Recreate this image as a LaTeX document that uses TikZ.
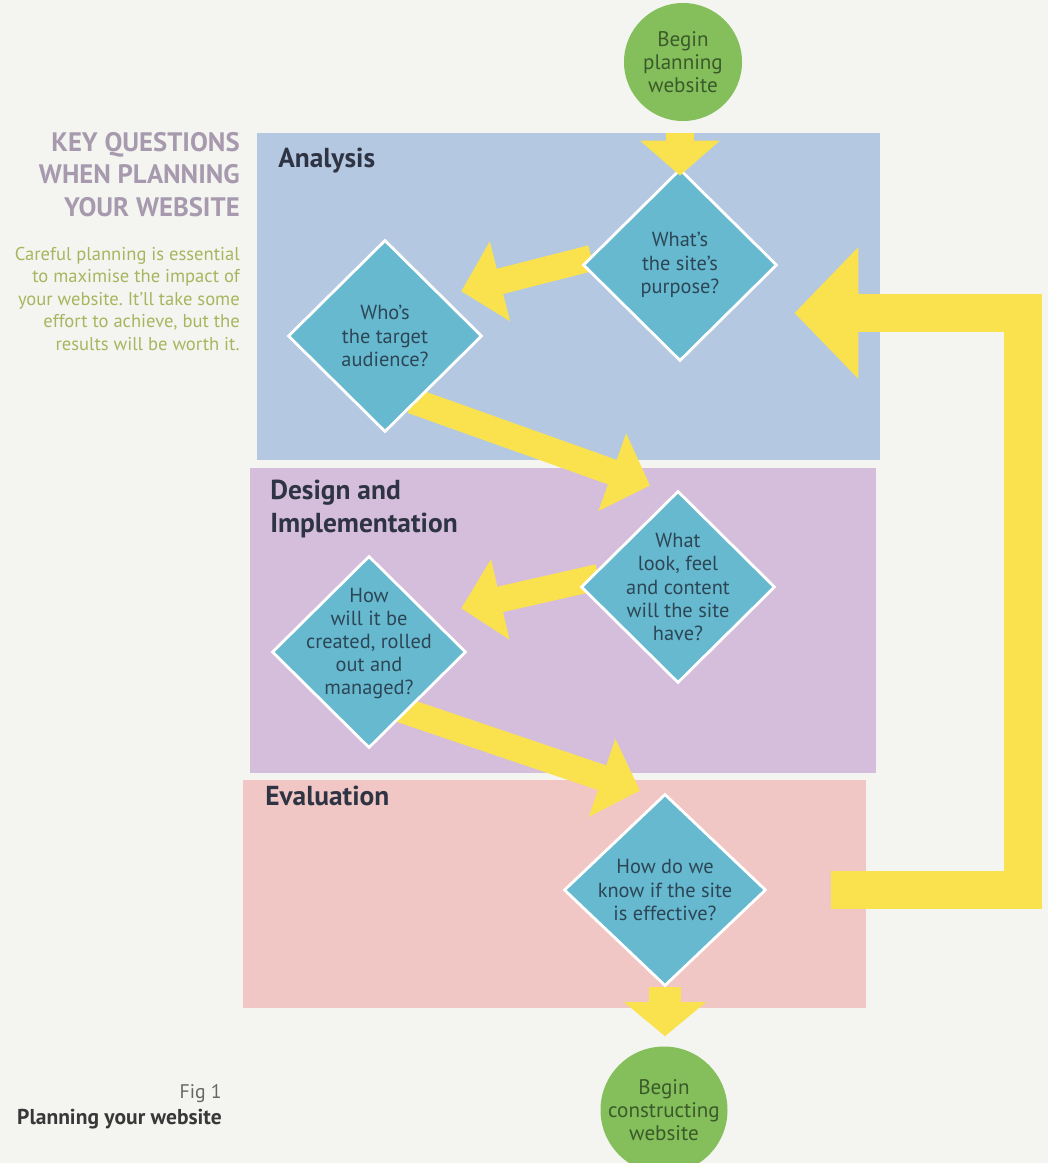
\documentclass[tikz,border=0pt]{standalone}
\usepackage{fontspec}
\setmainfont{PT Sans}
\frenchspacing
\usetikzlibrary{shapes.geometric,arrows.meta,calc}

\definecolor{paper}{HTML}{F4F5F1}
\definecolor{anablue}{HTML}{B5C8E2}
\definecolor{desmauve}{HTML}{D5BEDB}
\definecolor{evalpink}{HTML}{F0C7C4}
\definecolor{qteal}{HTML}{67B9CF}
\definecolor{qtext}{HTML}{2C4656}
\definecolor{endgreen}{HTML}{84BF5C}
\definecolor{greentext}{HTML}{3B5A2A}
\definecolor{flowyellow}{HTML}{F9E24E}
\definecolor{headgray}{HTML}{A79AAE}
\definecolor{introgreen}{HTML}{A7B65E}
\definecolor{stagetext}{HTML}{2F3444}

\pgfdeclarelayer{panels}
\pgfdeclarelayer{flows}
\pgfsetlayers{panels,flows,main}

\tikzset{
  question/.style={diamond, fill=qteal, draw=white, line width=2pt,
    minimum width=4.85cm, minimum height=4.8cm, inner sep=0pt},
  qlabel/.style={align=center, text=qtext, font=\fontsize{14.5}{16.5}\selectfont},
  terminal/.style={circle, fill=endgreen, minimum size=2.95cm, inner sep=0pt,
    align=center, text=greentext, font=\fontsize{15}{16.4}\selectfont},
  stage/.style={anchor=base west, align=left, inner sep=0pt, text=stagetext,
    font=\fontsize{19.5}{22.8}\selectfont\bfseries},
  flow/.style={draw=flowyellow, line width=0.65cm,
    -{Triangle[length=1cm,width=2cm]}},
  loopflow/.style={draw=flowyellow, line width=0.95cm, line join=miter,
    -{Triangle[length=1.6cm,width=3.2cm]}}
}

\begin{document}
\begin{tikzpicture}[x=0.025cm,y=-0.025cm]
  \useasboundingbox (0,0) rectangle (1048,1163);

  %% stage panels
  \begin{pgfonlayer}{panels}
    \fill[paper] (0,0) rectangle (1048,1163);
    \fill[anablue] (257,133) rectangle (880,460);
    \fill[desmauve] (250,468) rectangle (876,773);
    \fill[evalpink] (243,780) rectangle (866,1008);
  \end{pgfonlayer}

  \node[stage] (analysis) at (278,167) {Analysis};
  \node[stage] (design) at (270,532) {Design and\\Implementation};
  \node[stage] (evaluation) at (265,805) {Evaluation};

  %% side text
  \node[anchor=base east, align=right, inner sep=0pt, text=headgray,
    font=\fontsize{19}{22.8}\selectfont\bfseries] (keyq) at (240,216)
    {KEY QUESTIONS\\WHEN PLANNING\\YOUR WEBSITE};
  \node[anchor=base east, align=right, inner sep=0pt, text=introgreen,
    font=\fontsize{13.2}{16}\selectfont] (intro) at (240,350)
    {Careful planning is essential\\to maximise the impact of\\your website. It'll take some\\effort to achieve, but the\\results will be worth it.};
  \node[anchor=base east, inner sep=0pt, text=black!60,
    font=\fontsize{14}{16}\selectfont] (fignum) at (222,1098) {Fig 1};
  \node[anchor=base east, inner sep=0pt, text=black!78,
    font=\fontsize{15.3}{16}\selectfont\bfseries] (figtitle) at (222,1124)
    {Planning your website};

  %% start and end
  \node[terminal] (start) at (683,62) {Begin\\planning\\website};
  \node[terminal] (finish) at (664,1110) {Begin\\constructing\\website};

  %% questions
  \node[question, label={[qlabel]center:{What's\\the site's\\purpose?}}] (D1) at (680,265) {};
  \node[question, label={[qlabel]center:{Who's\\the target\\audience?}}] (D2) at (385,336) {};
  \node[question, label={[qlabel]center:{What\\look, feel\\and content\\will the site\\have?}}] (D3) at (678,587) {};
  \node[question, label={[qlabel, yshift=6pt]center:{How\\will it be\\created, rolled\\out and\\managed?}}] (D4) at (369,652) {};
  \node[question, minimum width=5.05cm, label={[qlabel]center:{How do we\\know if the site\\is effective?}}] (D5) at (665,890) {};

  %% flow arrows
  \begin{pgfonlayer}{flows}
    \draw[flow] ($(D1.west)+(10,-7)$) -- ($(D2.north east)+(27,4)$);
    \draw[flow] ($(D2.south east)+(-22,16)$) -- ($(D3.north)+(-28,-4)$);
    \draw[flow] ($(D3.west)+(19,-10)$) -- ($(D4.north east)+(43,5)$);
    \draw[flow] ($(D4.south east)+(-17,9)$) -- ($(D5.north)+(-25,-2)$);
    \draw[flow, line width=0.82cm, -{Triangle[length=0.85cm,width=2cm]}]
      (D5.south) -- ($(D5.south |- finish.north)+(0,-10)$);
    \draw[loopflow] ($(D5.east)+(64,0)$) -- ++(192,0) |- ($(D1.east)+(16,48)$);
  \end{pgfonlayer}
  \draw[flow, line width=0.7cm, -{Triangle[length=0.875cm,width=1.95cm]}]
    ($(D1.north |- start.south)+(0,12)$) -- ($(D1.north)+(0,8)$);
\end{tikzpicture}
\end{document}
